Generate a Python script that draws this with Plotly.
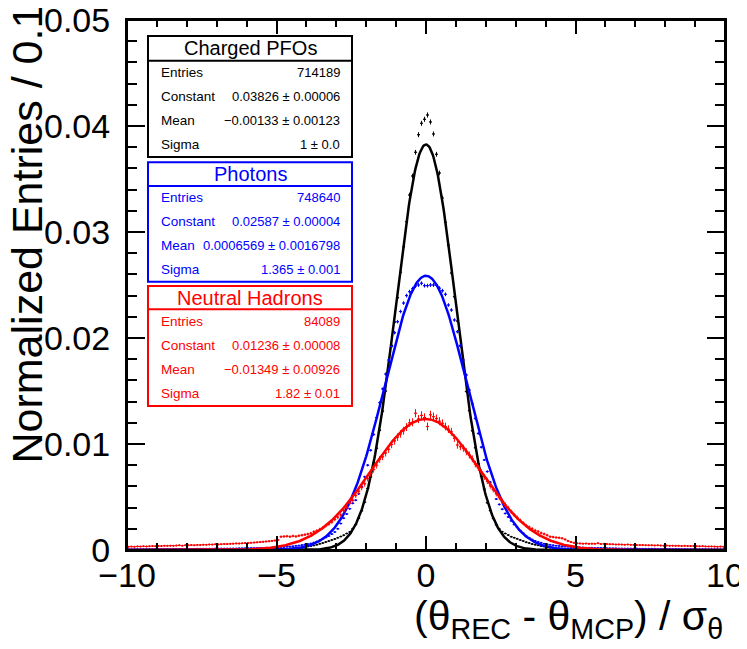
import numpy as np
import plotly.graph_objects as go

# bin centres: -9.95 ... 9.95, width 0.1
bin_width = 0.1
bin_centres = np.round(np.arange(-9.95, 10.0, bin_width), 2)

# normalized entries per bin, in units of 1e-5
charged_vals = [
    2, 1, 2, 2, 1, 2, 2, 2, 1, 2,
    2, 2, 3, 2, 2, 3, 2, 3, 3, 2,
    3, 2, 3, 3, 3, 3, 3, 3, 3, 3,
    3, 3, 4, 3, 4, 4, 4, 4, 4, 4,
    4, 5, 5, 5, 6, 6, 6, 7, 7, 8,
    8, 9, 10, 11, 13, 15, 17, 20, 23, 27,
    33, 38, 43, 50, 58, 66, 75, 84, 94, 104,
    115, 127, 140, 155, 170, 200, 240, 300, 370, 450,
    580, 690, 820, 960, 1130, 1310, 1500, 1710, 1930, 2150,
    2380, 2620, 2860, 3097, 3349, 3528, 3752, 3918, 4025, 4063,
    4104, 4038, 3925, 3733, 3557, 3321, 3092, 2875, 2613, 2390,
    2160, 1925, 1715, 1495, 1315, 1125, 965, 815, 695, 575,
    445, 372, 298, 238, 198, 172, 156, 141, 126, 116,
    105, 95, 85, 74, 66, 57, 50, 44, 38, 32,
    27, 23, 20, 17, 15, 13, 11, 10, 9, 8,
    8, 7, 7, 6, 6, 6, 5, 5, 5, 4,
    4, 4, 4, 4, 4, 3, 4, 3, 3, 3,
    3, 3, 3, 3, 3, 3, 2, 3, 3, 2,
    2, 3, 2, 2, 3, 2, 2, 2, 2, 2,
    2, 1, 2, 2, 2, 1, 2, 2, 1, 2,
]

photon_vals = [
    6, 6, 6, 7, 6, 7, 7, 7, 7, 7,
    8, 8, 8, 8, 8, 9, 9, 9, 9, 10,
    10, 10, 10, 11, 11, 11, 12, 12, 12, 13,
    13, 13, 14, 14, 14, 15, 15, 16, 16, 17,
    17, 18, 18, 19, 20, 20, 21, 22, 23, 24,
    25, 27, 29, 31, 33, 36, 39, 42, 46, 51,
    56, 62, 70, 80, 92, 105, 118, 132, 150, 170,
    200, 250, 300, 340, 390, 440, 470, 530, 600, 690,
    800, 940, 1090, 1250, 1390, 1520, 1660, 1792, 1920, 2050,
    2154, 2250, 2330, 2400, 2437, 2465, 2490, 2500, 2516, 2494,
    2494, 2500, 2500, 2500, 2470, 2446, 2412, 2311, 2264, 2170,
    2060, 1930, 1792, 1651, 1509, 1380, 1240, 1100, 970, 850,
    740, 640, 570, 480, 430, 385, 345, 312, 275, 240,
    215, 185, 158, 132, 115, 98, 86, 76, 68, 60,
    54, 49, 45, 41, 38, 35, 32, 30, 28, 26,
    25, 24, 23, 22, 21, 21, 20, 19, 19, 18,
    17, 17, 16, 16, 15, 15, 14, 14, 14, 13,
    13, 12, 12, 12, 11, 11, 11, 10, 10, 10,
    10, 9, 9, 9, 9, 8, 8, 8, 8, 8,
    7, 7, 7, 7, 6, 6, 6, 6, 6, 6,
]

neutral_vals = [
    30, 32, 31, 34, 33, 35, 33, 36, 37, 36,
    38, 37, 40, 39, 41, 40, 42, 44, 41, 45,
    44, 46, 45, 48, 47, 50, 49, 52, 51, 54,
    53, 55, 57, 56, 58, 60, 62, 61, 63, 65,
    66, 68, 70, 72, 75, 77, 80, 83, 86, 90,
    95, 125, 128, 130, 126, 132, 128, 135, 140, 145,
    150, 158, 172, 182, 195, 210, 230, 245, 265, 290,
    310, 330, 370, 405, 445, 470, 515, 555, 590, 625,
    675, 720, 760, 800, 855, 880, 915, 950, 995, 1030,
    1065, 1095, 1125, 1160, 1200, 1205, 1290, 1235, 1270, 1250,
    1165, 1275, 1258, 1240, 1215, 1195, 1165, 1140, 1115, 1055,
    990, 975, 960, 927, 896, 860, 810, 775, 735, 690,
    650, 605, 570, 530, 495, 460, 425, 395, 360, 330,
    305, 280, 255, 230, 215, 200, 185, 175, 160, 151,
    140, 126, 122, 118, 115, 110, 100, 85, 75, 68,
    63, 62, 60, 61, 58, 60, 59, 63, 57, 58,
    56, 55, 54, 52, 53, 51, 50, 52, 49, 48,
    47, 46, 47, 45, 44, 45, 43, 44, 42, 41,
    42, 40, 41, 39, 40, 38, 39, 38, 37, 38,
    36, 35, 36, 34, 33, 34, 32, 31, 32, 31,
]

# stats box contents
names = ["Charged PFOs", "Photons", "Neutral Hadrons"]
colors = ["#000000", "#0000ff", "#ff0000"]
entries = [714189, 748640, 84089]
constants = [0.03826, 0.02587, 0.01236]
means = [-0.00133, 0.0006569, -0.01349]
sigmas = [1.0, 1.365, 1.82]
constant_txt = ["0.03826 \u00b1 0.00006", "0.02587 \u00b1 0.00004", "0.01236 \u00b1 0.00008"]
mean_txt = ["\u22120.00133 \u00b1 0.00123", "0.0006569 \u00b1 0.0016798", "\u22120.01349 \u00b1 0.00926"]
sigma_txt = ["1 \u00b1 0.0", "1.365 \u00b1 0.001", "1.82 \u00b1 0.01"]

# the page body adds an 8px margin, so the figure is drawn 8px in from the corner
OFF = 8
W, H = 747 - OFF, 649 - OFF
L, R, T, B = 127, 725, 20, 550  # frame in screen pixels


def fx(p):
    return (p - L) / (R - L)


def fy(p):
    return (B - p) / (B - T)


fig = go.Figure()
x_fit = np.linspace(-10, 10, 801)
series = [charged_vals, photon_vals, neutral_vals]

for k in range(3):
    y = np.array(series[k]) * 1e-5
    err = np.sqrt(y / entries[k])
    fig.add_trace(go.Scatter(
        x=bin_centres, y=y, mode="markers",
        marker=dict(color=colors[k], size=2),
        error_y=dict(type="data", array=err, color=colors[k], thickness=1, width=0),
        error_x=dict(type="constant", value=bin_width / 2, color=colors[k], thickness=1, width=0),
        showlegend=False, hoverinfo="skip"))
    y_fit = constants[k] * np.exp(-0.5 * ((x_fit - means[k]) / sigmas[k]) ** 2)
    fig.add_trace(go.Scatter(
        x=x_fit, y=y_fit, mode="lines",
        line=dict(color=colors[k], width=2.5),
        showlegend=False, hoverinfo="skip"))

# frame
fig.add_shape(type="rect", xref="paper", yref="paper", x0=0, x1=1, y0=0, y1=1,
              line=dict(color="black", width=2), layer="above")

# stats boxes: (top, title bottom, bottom) in pixels
boxes = [(36, 60.7, 157), (162.3, 186, 281.7), (286, 309.3, 406)]
bx0, bx1 = 148, 352
for k, (top, mid, bot) in enumerate(boxes):
    c = colors[k]
    fig.add_shape(type="rect", xref="paper", yref="paper",
                  x0=fx(bx0), x1=fx(bx1), y0=fy(bot), y1=fy(top),
                  line=dict(color=c, width=2), fillcolor="white", layer="above")
    fig.add_shape(type="line", xref="paper", yref="paper",
                  x0=fx(bx0), x1=fx(bx1), y0=fy(mid), y1=fy(mid),
                  line=dict(color=c, width=2), layer="above")
    fig.add_annotation(x=fx((bx0 + bx1) / 2), y=fy((top + mid) / 2), xref="paper", yref="paper",
                       text=names[k], showarrow=False, xanchor="center", yanchor="middle",
                       font=dict(size=20, color=c))
    rows = [("Entries", str(entries[k])), ("Constant", constant_txt[k]),
            ("Mean", mean_txt[k]), ("Sigma", sigma_txt[k])]
    step = (bot - mid) / 4
    for j, (lab, val) in enumerate(rows):
        ypos = fy(mid + step * (j + 0.5))
        fig.add_annotation(x=fx(159), y=ypos, xref="paper", yref="paper", text=lab,
                           showarrow=False, xanchor="left", yanchor="middle",
                           font=dict(size=13.5, color=c))
        fig.add_annotation(x=fx(342), y=ypos, xref="paper", yref="paper", text=val,
                           showarrow=False, xanchor="right", yanchor="middle",
                           font=dict(size=13, color=c))

# axis titles (ROOT style, aligned to axis ends)
fig.add_annotation(x=1.0, y=fy(619), xref="paper", yref="paper",
                   text="(\u03b8<sub>REC</sub> - \u03b8<sub>MCP</sub>) / \u03c3<sub>\u03b8</sub>",
                   showarrow=False, xanchor="right", yanchor="middle",
                   font=dict(size=41, color="black"))
fig.add_annotation(x=fx(27), y=fy(3), xref="paper", yref="paper",
                   text="Normalized Entries / 0.1", textangle=-90,
                   showarrow=False, xanchor="center", yanchor="top",
                   font=dict(size=43, color="black"))

fig.update_xaxes(range=[-10, 10], showgrid=False, zeroline=False, automargin=False,
                 showline=True, linecolor="black", linewidth=2, mirror="allticks",
                 ticks="inside", ticklen=14, tickwidth=2, tickcolor="black",
                 dtick=5, tick0=0,
                 minor=dict(ticks="inside", ticklen=7, tickwidth=2, dtick=1, tickcolor="black", showgrid=False),
                 tickfont=dict(size=34, color="black"), ticklabelstandoff=-6,
                 ticklabeloverflow="allow")
fig.update_yaxes(range=[0, 0.05], showgrid=False, zeroline=False, automargin=False,
                 showline=True, linecolor="black", linewidth=2, mirror="allticks",
                 ticks="inside", ticklen=18, tickwidth=2, tickcolor="black",
                 dtick=0.01, tick0=0,
                 minor=dict(ticks="inside", ticklen=10, tickwidth=2, dtick=0.002, tickcolor="black", showgrid=False),
                 tickfont=dict(size=34, color="black"), ticklabelstandoff=8,
                 ticklabeloverflow="allow")

fig.update_layout(width=W, height=H,
                  margin=dict(l=L - OFF, r=747 - R, t=T - OFF, b=649 - B),
                  plot_bgcolor="white", paper_bgcolor="white",
                  font=dict(family="Liberation Sans, Arial, sans-serif"))

fig.write_html("out.html")
